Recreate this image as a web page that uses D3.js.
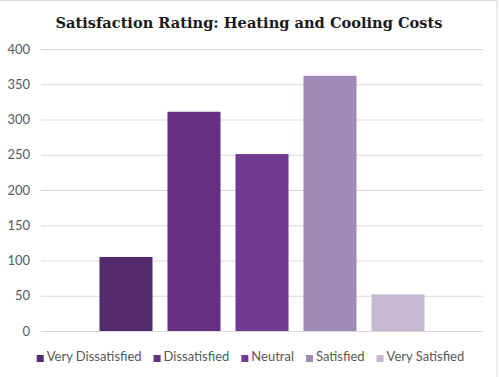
<!DOCTYPE html>
<html>
<head>
<meta charset="utf-8">
<script src="https://cdn.jsdelivr.net/npm/d3@7"></script>
<style>
  body { margin: 0; background: #fff; }
  svg { display: block; }
</style>
</head>
<body>
<div id="chart"></div>
<script>
const title = "Satisfaction Rating: Heating and Cooling Costs";
const ratings = ["Very Dissatisfied", "Dissatisfied", "Neutral", "Satisfied", "Very Satisfied"];
const counts = [105, 311, 251, 362, 52];
const barColors = ["#542b6f", "#64307f", "#733a93", "#a18bb6", "#c5b8d1"];
const yTicks = [0, 50, 100, 150, 200, 250, 300, 350, 400];

const width = 499, height = 377;
const plot = { left: 41, right: 483, top: 49, bottom: 331 };

const svg = d3.select("#chart")
    .append("svg")
    .attr("width", width)
    .attr("height", height);

// chart frame (only top / right edges show in the picture)
svg.append("rect")
    .attr("x", -1).attr("y", 0.5)
    .attr("width", 498).attr("height", 400)
    .attr("fill", "none")
    .attr("stroke", "#d9d9d9");

svg.append("text")
    .attr("x", 249)
    .attr("y", 28)
    .attr("text-anchor", "middle")
    .attr("font-family", "DejaVu Serif")
    .attr("font-weight", "bold")
    .attr("font-size", 14.6)
    .attr("fill", "#1a1a1a")
    .text(title);

const y = d3.scaleLinear()
    .domain([0, 400])
    .range([plot.bottom, plot.top]);

const x = d3.scaleBand()
    .domain(ratings)
    .range([plot.left, plot.right])
    .paddingInner(0.22)
    .paddingOuter(0.86);

const color = d3.scaleOrdinal(ratings, barColors);

// gridlines + labels
const yAxis = d3.axisLeft(y)
    .tickValues(yTicks)
    .tickSize(-(plot.right - plot.left))
    .tickPadding(11);

const gy = svg.append("g")
    .attr("transform", `translate(${plot.left},0)`)
    .call(yAxis);
gy.select(".domain").remove();
gy.selectAll(".tick line").attr("stroke", "#d9d9d9").attr("stroke-width", 1);
gy.selectAll(".tick text")
    .attr("font-family", "Lato")
    .attr("font-size", 13)
    .attr("fill", "#595959");

svg.append("g")
    .selectAll("rect")
    .data(ratings)
    .join("rect")
    .attr("x", d => x(d))
    .attr("width", x.bandwidth())
    .attr("y", (d, i) => y(counts[i]))
    .attr("height", (d, i) => y(0) - y(counts[i]))
    .attr("fill", d => color(d));

// legend
const legend = svg.append("g");
const items = legend.selectAll("g")
    .data(ratings)
    .join("g");
items.append("rect")
    .attr("width", 7).attr("height", 7)
    .attr("y", -6)
    .attr("fill", d => color(d));
items.append("text")
    .attr("x", 10)
    .attr("font-family", "Lato")
    .attr("font-size", 13)
    .attr("fill", "#595959")
    .text(d => d);

let offset = 0;
items.each(function() {
    const w = 10 + this.querySelector("text").getComputedTextLength();
    d3.select(this).attr("transform", `translate(${offset},0)`);
    offset += w + 12;
});
offset -= 12;
legend.attr("transform", `translate(${(width - offset) / 2 + 1},361)`);
</script>
</body>
</html>
